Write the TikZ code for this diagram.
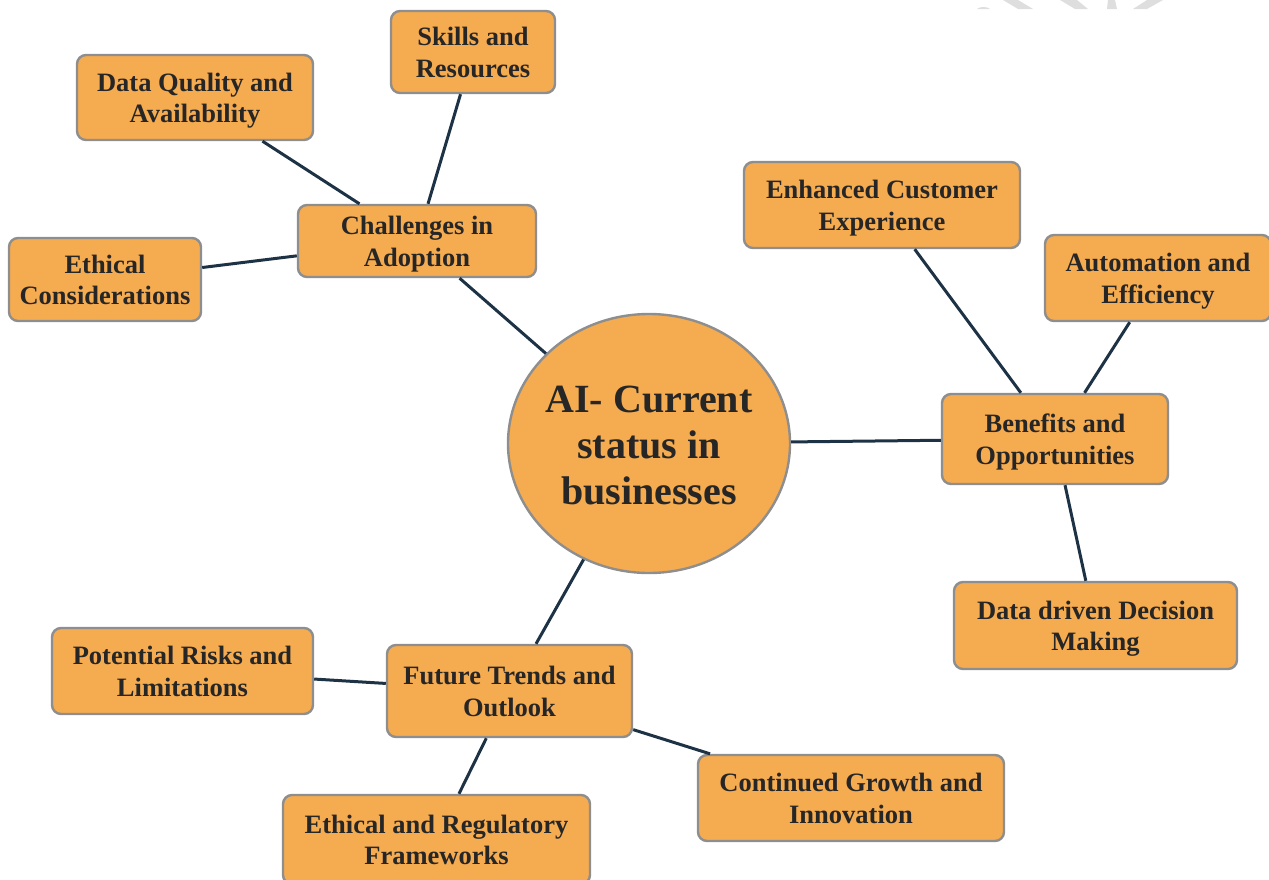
\documentclass[tikz,border=0pt]{standalone}
\usepackage{fontspec}
\setmainfont{Liberation Serif}
\usetikzlibrary{shapes.geometric}
\definecolor{boxfill}{HTML}{F5AB4F}
\definecolor{boxline}{HTML}{8E8E8E}
\definecolor{linkcol}{HTML}{1D3245}
\definecolor{txtcol}{HTML}{262626}
\definecolor{wmark}{HTML}{DEDEDE}
\newcommand\btext[1]{\raisebox{-9.5pt}[0pt][0pt]{\begin{tabular}{@{}c@{}}#1\end{tabular}}}
\newcommand\htext[1]{\makebox[0pt]{\raisebox{-12.5pt}[0pt][0pt]{\begin{tabular}{@{}c@{}}#1\end{tabular}}}}
\tikzset{
  topicbox/.style={draw=boxline, line width=2.4pt, fill=boxfill, rounded corners=9pt,
    inner sep=0pt, text=txtcol,
    font=\fontsize{26.5}{31.5}\selectfont\bfseries},
  hubnode/.style={draw=boxline, line width=2.4pt, fill=boxfill, ellipse,
    inner sep=0pt, text=txtcol,
    font=\fontsize{40}{46}\selectfont\bfseries},
  link/.style={draw=linkcol, line width=3pt}
}
\begin{document}
\begin{tikzpicture}[x=1pt,y=-1pt]
\useasboundingbox (0,0) rectangle (1269,879);
% watermark fragments
\fill[wmark] (977,9) .. controls (980,6.3) and (987,6.3) .. (990,9) -- cycle;
\fill[wmark] (1003,0) -- (1018,0) -- (1033,9) -- (1018,9) -- cycle;
\fill[wmark] (1060,0) -- (1077,0) -- (1088,9) -- (1075,9) -- cycle;
\fill[wmark] (1108,0) -- (1115,0) -- (1117,9) -- (1107,9) -- cycle;
\fill[wmark] (1147,0) -- (1163,0) -- (1147,9) -- (1133,9) -- cycle;

\node[hubnode, minimum width=282, minimum height=259] (hub) at (649,443.5) {\htext{AI- Current\\status in\\businesses}};

\node[topicbox, minimum width=164, minimum height=82] (skills) at (473,52) {\btext{Skills and\\Resources}};
\node[topicbox, minimum width=236, minimum height=85] (dataq) at (195,97.5) {\btext{Data Quality and\\Availability}};
\node[topicbox, minimum width=238, minimum height=72] (chal) at (417,241) {\btext{Challenges in\\Adoption}};
\node[topicbox, minimum width=192, minimum height=83] (ethc) at (105,279.5) {\btext{Ethical\\Considerations}};

\node[topicbox, minimum width=276, minimum height=86] (enh) at (882,205) {\btext{Enhanced Customer\\Experience}};
\node[topicbox, minimum width=226, minimum height=86] (auto) at (1158,278) {\btext{Automation and\\Efficiency}};
\node[topicbox, minimum width=226, minimum height=90] (ben) at (1055,439) {\btext{Benefits and\\Opportunities}};
\node[topicbox, minimum width=283, minimum height=87] (ddm) at (1095.5,625.5) {\btext{Data driven Decision\\Making}};

\node[topicbox, minimum width=245, minimum height=92] (fut) at (509.5,691) {\btext{Future Trends and\\Outlook}};
\node[topicbox, minimum width=261, minimum height=86] (risk) at (182.5,671) {\btext{Potential Risks and\\Limitations}};
\node[topicbox, minimum width=306, minimum height=86] (cont) at (851,798) {\btext{Continued Growth and\\Innovation}};
\node[topicbox, minimum width=307, minimum height=89] (ethr) at (436.5,839.5) {\btext{Ethical and Regulatory\\Frameworks}};

\draw[link] (chal) -- (hub);
\draw[link] (chal) -- (dataq);
\draw[link] (chal) -- (skills);
\draw[link] (chal) -- (ethc);
\draw[link] (hub) -- (ben);
\draw[link] (ben) -- (enh);
\draw[link] (ben) -- (auto);
\draw[link] (ben) -- (ddm);
\draw[link] (hub) -- (fut);
\draw[link] (fut) -- (risk);
\draw[link] (fut) -- (cont);
\draw[link] (fut) -- (ethr);
\end{tikzpicture}
\end{document}
